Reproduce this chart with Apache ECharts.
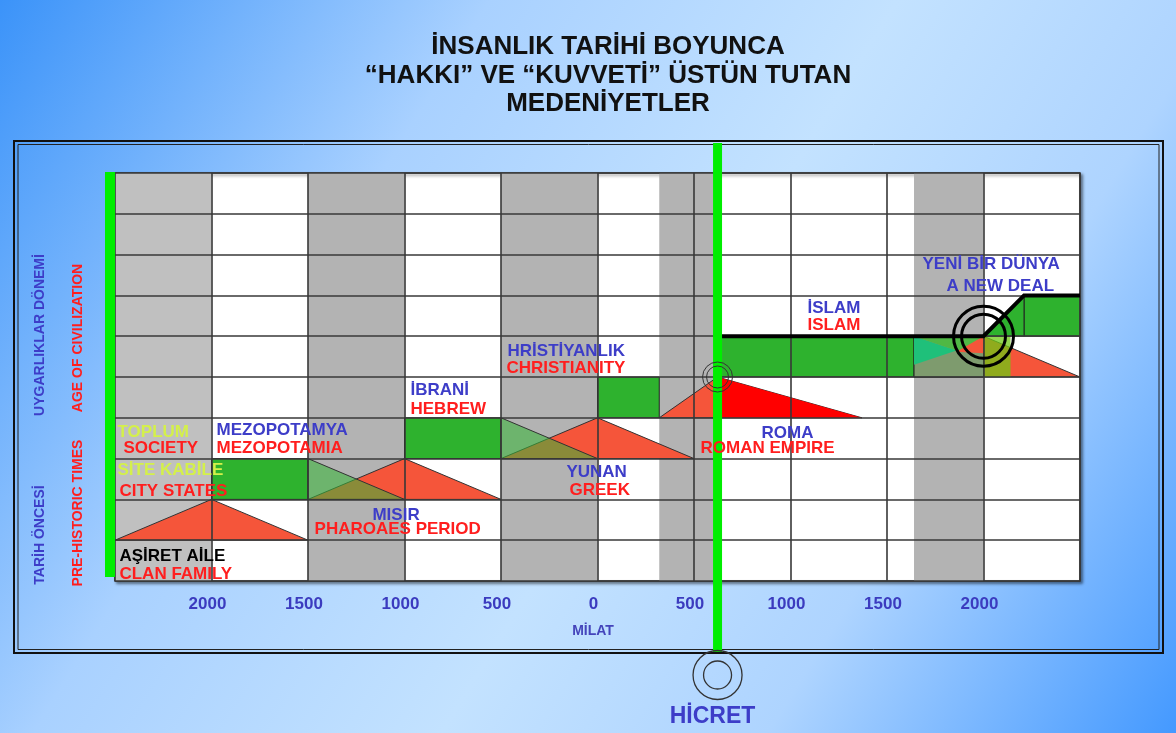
<!DOCTYPE html>
<html>
<head>
<meta charset="utf-8">
<title>İnsanlık Tarihi Boyunca</title>
<script src="https://cdn.jsdelivr.net/npm/echarts@6/dist/echarts.min.js"></script>
<style>
  html, body { margin: 0; padding: 0; }
  #main { width: 1176px; height: 733px; }
</style>
</head>
<body>
<div id="main"></div>
<script>
// yillar: eksi = milattan once
var yearMin = -2500, yearMax = 2500, yearStep = 500;
var rowCount = 10;
var hijraYear = 622;

// gri donemler (sutunlar)
var grayBands = [[-2500, -2000], [-1500, -1000], [-500, 0], [320, 622], [1640, 2000]];
// yesil seritler: [baslangic, bitis, satir]
var greenBars = [[-2000, -1500, 2], [-1000, -500, 3], [0, 320, 4], [622, 1640, 5], [2210, 2500, 6]];
// sonumlenen yesil ucgenler: [baslangic, bitis, satir]
var fadeTriangles = [[-1500, -1000, 2], [-500, 0, 3]];
// kirmizi ucgenler: [baslangic, tepe, bitis, satir]
var redTriangles = [[-2500, -2000, -1500, 1], [-1500, -1000, -500, 2], [-500, 0, 500, 3], [320, 622, 1370, 4], [1640, 2000, 2500, 5]];
// 2000 civari gecis parcalari
var oliveBlock = [[1640, 5], [2000, 5], [2000, 6], [1640, 6]];
var tealWedge = [[1640, 6], [1640, 5.3], [1860, 5.65]];
var greenWedge = [[1640, 6], [2000, 6], [1880, 5.62]];
var redWedge = [[1860, 5.62], [2000, 6], [2000, 5.58]];
var limeBlock = [[2000, 5], [2140, 5], [2140, 6], [2000, 6]];
var newDealRamp = [[2000, 6], [2210, 7], [2210, 6]];
// islam cizgisi
var islamPath = [[622, 5], [622, 6], [2000, 6], [2210, 7], [2500, 7]];
var smallRings = [[622, 5]];
var bigRings = [[2000, 6]];

// yazilar: [yil, satir, metin]
var blackLabels = [[-2477, 0.61, 'AŞİRET AİLE']];
var yellowLabels = [[-2487, 2.72, 'SİTE KABİLE'], [-2487, 3.65, 'TOPLUM']];
var redLabels = [
  [-2477, 0.17, 'CLAN FAMILY'], [-2477, 2.21, 'CITY STATES'], [-2456, 3.24, 'SOCIETY'],
  [-1974, 3.24, 'MEZOPOTAMIA'], [-1466, 1.27, 'PHAROAES PERIOD'], [-969, 4.22, 'HEBREW'],
  [-472, 5.22, 'CHRISTIANITY'], [-145, 2.23, 'GREEK'], [534, 3.24, 'ROMAN EMPIRE'],
  [1088, 6.27, 'ISLAM']
];
var blueLabels = [
  [-1974, 3.70, 'MEZOPOTAMYA'], [-1166, 1.62, 'MISIR'], [-969, 4.68, 'İBRANİ'],
  [-466, 5.64, 'HRİSTİYANLIK'], [-161, 2.67, 'YUNAN'], [850, 3.63, 'ROMA'],
  [1088, 6.69, 'İSLAM'], [1684, 7.75, 'YENİ BİR DÜNYA'], [1808, 7.23, 'A NEW DEAL']
];

var BLUE = '#3d3dc8', RED = '#ff1e1e', TOMATO = '#f5553a', GREEN = '#2eb22e';
var FONT = 'Liberation Sans, Arial, sans-serif';

function shapeSeries(polys, style, z) {
  return {
    type: 'custom', silent: true, z: z || 2,
    data: polys.map(function (p) { return p[0]; }),
    renderItem: function (params, api) {
      var pts = polys[params.dataIndex].map(function (p) { return api.coord(p); });
      return { type: 'polygon', shape: { points: pts }, style: style };
    }
  };
}

function labelSeries(items, color) {
  return {
    type: 'custom', silent: true, z: 6,
    data: items.map(function (d) { return [d[0], d[1]]; }),
    renderItem: function (params, api) {
      var d = items[params.dataIndex];
      var p = api.coord([d[0], d[1]]);
      return {
        type: 'text', x: p[0], y: p[1],
        style: { text: d[2], fill: color, font: 'bold 17px ' + FONT, align: 'left', verticalAlign: 'middle' }
      };
    }
  };
}

var bandPolys = grayBands.map(function (b) { return [[b[0], 0], [b[1], 0], [b[1], rowCount], [b[0], rowCount]]; });
var barPolys = greenBars.map(function (b) { return [[b[0], b[2]], [b[1], b[2]], [b[1], b[2] + 1], [b[0], b[2] + 1]]; });
var fadePolys = fadeTriangles.map(function (t) { return [[t[0], t[2] + 1], [t[0], t[2]], [t[1], t[2]]]; });
var redPolys = redTriangles.map(function (t) { return [[t[0], t[3]], [t[1], t[3] + 1], [t[2], t[3]]]; });
// hicretten sonraki yari koyu kirmizi
var hijraHalves = redTriangles.filter(function (t) { return t[1] === hijraYear; })
  .map(function (t) { return [[t[1], t[3]], [t[1], t[3] + 1], [t[2], t[3]]]; });

var series = [
  shapeSeries([bandPolys[0]], { fill: '#c0c0c0' }, 1),
  shapeSeries(bandPolys.slice(1), { fill: '#b3b3b3' }, 1),
  shapeSeries(barPolys, { fill: GREEN, stroke: '#222', lineWidth: 1 }, 2),
  shapeSeries(redPolys, { fill: TOMATO, stroke: '#333', lineWidth: 1 }, 2),
  shapeSeries(hijraHalves, { fill: '#ff0000' }, 2),
  shapeSeries(fadePolys, { fill: 'rgba(57,182,57,0.57)', stroke: '#333', lineWidth: 1 }, 2),
  shapeSeries([oliveBlock], { fill: '#7e9b6e', stroke: '#222', lineWidth: 1 }, 2),
  shapeSeries([tealWedge], { fill: '#1fc07a' }, 2),
  shapeSeries([greenWedge], { fill: '#4fb845' }, 2),
  shapeSeries([redWedge], { fill: '#f5553a' }, 2),
  shapeSeries([limeBlock], { fill: 'rgba(110,200,20,0.75)' }, 2),
  shapeSeries([newDealRamp], { fill: GREEN, stroke: '#222', lineWidth: 1 }, 2),
  {
    type: 'custom', silent: true, z: 5,
    data: [islamPath[0]],
    renderItem: function (params, api) {
      return {
        type: 'polyline',
        shape: { points: islamPath.map(function (p) { return api.coord(p); }) },
        style: { stroke: '#000', lineWidth: 4, fill: null }
      };
    }
  },
  {
    type: 'custom', silent: true, z: 5,
    data: [[yearMin, 0]],
    renderItem: function (params, api) {
      var top = api.coord([yearMin, rowCount]), bot = api.coord([yearMin, 0]);
      return { type: 'rect', shape: { x: top[0] - 10, y: top[1] - 1, width: 10, height: bot[1] - top[1] - 3 }, style: { fill: '#00ee00' } };
    }
  },
  {
    type: 'custom', silent: true, z: 5,
    data: [[hijraYear, 0]],
    renderItem: function (params, api) {
      var top = api.coord([hijraYear, rowCount]), bot = api.coord([hijraYear, 0]);
      var x = top[0];
      return {
        type: 'group', children: [
          { type: 'line', shape: { x1: x, y1: top[1] - 30, x2: x, y2: bot[1] + 71 }, style: { stroke: '#00ee00', lineWidth: 9 } },
          { type: 'circle', shape: { cx: x, cy: bot[1] + 94, r: 24.5 }, style: { fill: null, stroke: '#333', lineWidth: 1.3 } },
          { type: 'circle', shape: { cx: x, cy: bot[1] + 94, r: 14 }, style: { fill: null, stroke: '#333', lineWidth: 1.3 } },
          { type: 'text', x: x - 5, y: bot[1] + 136, style: { text: 'HİCRET', fill: BLUE, font: 'bold 23px ' + FONT, align: 'center', verticalAlign: 'middle' } }
        ]
      };
    }
  },
  {
    type: 'custom', silent: true, z: 6,
    data: smallRings,
    renderItem: function (params, api) {
      var p = api.coord(smallRings[params.dataIndex]);
      return {
        type: 'group', children: [
          { type: 'circle', shape: { cx: p[0], cy: p[1], r: 15 }, style: { fill: null, stroke: '#333', lineWidth: 1 } },
          { type: 'circle', shape: { cx: p[0], cy: p[1], r: 11 }, style: { fill: null, stroke: '#333', lineWidth: 1 } }
        ]
      };
    }
  },
  {
    type: 'custom', silent: true, z: 6,
    data: bigRings,
    renderItem: function (params, api) {
      var p = api.coord(bigRings[params.dataIndex]);
      return {
        type: 'group', children: [
          { type: 'circle', shape: { cx: p[0], cy: p[1], r: 30 }, style: { fill: null, stroke: '#000', lineWidth: 3 } },
          { type: 'circle', shape: { cx: p[0], cy: p[1], r: 22 }, style: { fill: null, stroke: '#000', lineWidth: 3 } }
        ]
      };
    }
  },
  labelSeries(blackLabels, '#000'),
  labelSeries(yellowLabels, '#d4f04a'),
  labelSeries(redLabels, RED),
  labelSeries(blueLabels, BLUE)
];

var chart = echarts.init(document.getElementById('main'));
chart.setOption({
  animation: false,
  backgroundColor: {
    type: 'linear', x: 0, y: 0, x2: 1, y2: 1,
    colorStops: [
      { offset: 0, color: '#3b93f9' }, { offset: 0.3, color: '#a9d1ff' },
      { offset: 0.55, color: '#c3e2ff' }, { offset: 0.75, color: '#aed4ff' },
      { offset: 1, color: '#4499ff' }
    ]
  },
  title: {
    text: 'İNSANLIK TARİHİ BOYUNCA\n“HAKKI” VE “KUVVETİ” ÜSTÜN TUTAN\nMEDENİYETLER',
    left: 603, top: 28, textAlign: 'center',
    textStyle: { fontFamily: FONT, fontSize: 26, fontWeight: 'bold', color: '#111', lineHeight: 28.5 }
  },
  graphic: [
    { type: 'rect', shape: { x: 14, y: 141, width: 1149, height: 512 }, style: { fill: null, stroke: '#111', lineWidth: 2 } },
    { type: 'rect', shape: { x: 18, y: 144.5, width: 1141, height: 505 }, style: { fill: null, stroke: '#222', lineWidth: 1 } },
    { type: 'text', x: 40, y: 335, rotation: Math.PI / 2, style: { text: 'UYGARLIKLAR DÖNEMİ', fill: BLUE, font: 'bold 14px ' + FONT, align: 'center', verticalAlign: 'middle' } },
    { type: 'text', x: 78, y: 338, rotation: Math.PI / 2, style: { text: 'AGE OF CIVILIZATION', fill: RED, font: 'bold 14px ' + FONT, align: 'center', verticalAlign: 'middle' } },
    { type: 'text', x: 40, y: 535, rotation: Math.PI / 2, style: { text: 'TARİH ÖNCESİ', fill: BLUE, font: 'bold 14px ' + FONT, align: 'center', verticalAlign: 'middle' } },
    { type: 'text', x: 78, y: 513, rotation: Math.PI / 2, style: { text: 'PRE-HISTORIC TIMES', fill: RED, font: 'bold 14px ' + FONT, align: 'center', verticalAlign: 'middle' } },
    { type: 'text', x: 593, y: 631, style: { text: 'MİLAT', fill: '#4444bb', font: 'bold 14px ' + FONT, align: 'center', verticalAlign: 'middle' } }
  ],
  grid: {
    left: 115, right: 96, top: 173, bottom: 152,
    show: true, backgroundColor: '#fff', borderColor: '#333', borderWidth: 1.5,
    shadowColor: 'rgba(0,0,0,0.45)', shadowBlur: 3, shadowOffsetX: 2, shadowOffsetY: 2
  },
  xAxis: {
    type: 'value', min: yearMin, max: yearMax, interval: yearStep, z: 3,
    axisLine: { show: false }, axisTick: { show: false },
    splitLine: { show: true, lineStyle: { color: '#383838', width: 1.6 } },
    axisLabel: {
      margin: 15, color: '#3b3bbf', fontSize: 17, fontWeight: 'bold', fontFamily: FONT,
      padding: [0, 8, 0, 0],
      formatter: function (v) { return (v === yearMin || v === yearMax) ? '' : String(Math.abs(v)); }
    }
  },
  yAxis: {
    type: 'value', min: 0, max: rowCount, interval: 1, z: 3,
    axisLine: { show: false }, axisTick: { show: false }, axisLabel: { show: false },
    splitLine: { show: true, lineStyle: { color: '#383838', width: 1.6 } }
  },
  series: series
});
</script>
</body>
</html>
